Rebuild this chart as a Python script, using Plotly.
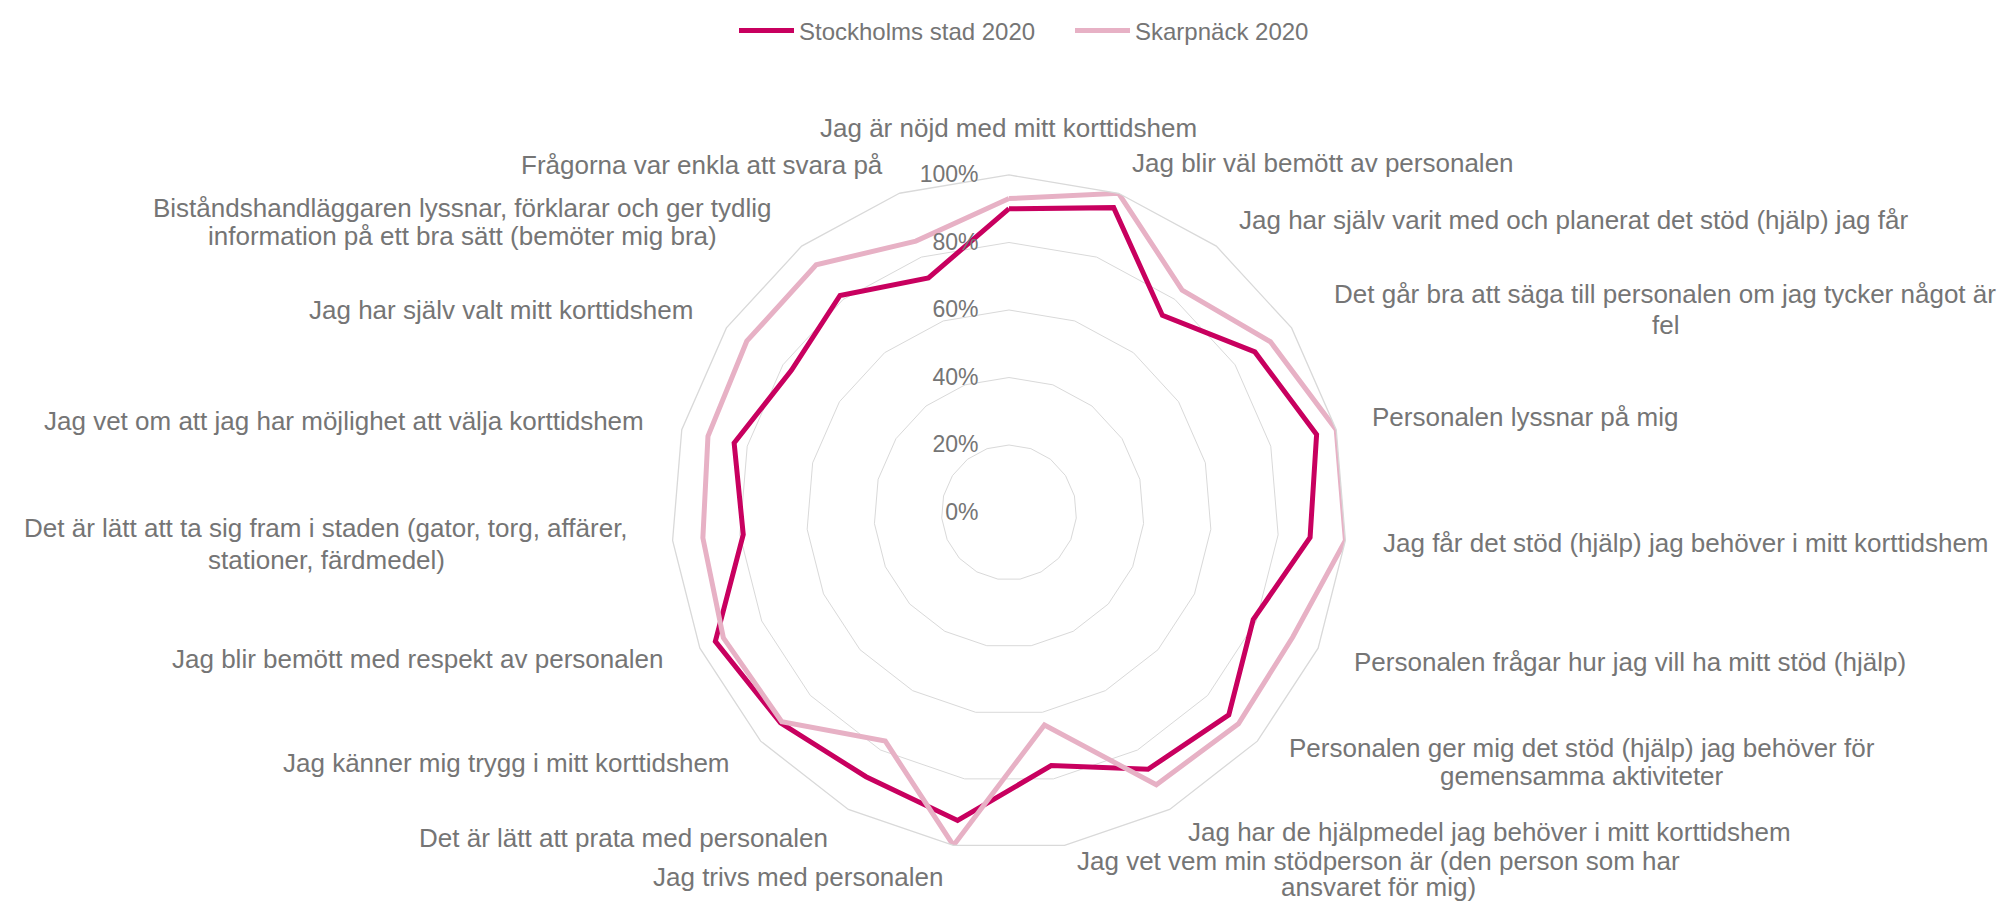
import plotly.graph_objects as go

# ---------------- data ----------------
categories = [
    "Jag är nöjd med mitt korttidshem",
    "Jag blir väl bemött av personalen",
    "Jag har själv varit med och planerat det stöd (hjälp) jag får",
    "Det går bra att säga till personalen om jag tycker något är<br>fel",
    "Personalen lyssnar på mig",
    "Jag får det stöd (hjälp) jag behöver i mitt korttidshem",
    "Personalen frågar hur jag vill ha mitt stöd (hjälp)",
    "Personalen ger mig det stöd (hjälp) jag behöver för<br>gemensamma aktiviteter",
    "Jag har de hjälpmedel jag behöver i mitt korttidshem",
    "Jag vet vem min stödperson är (den person som har<br>ansvaret för mig)",
    "Jag trivs med personalen",
    "Det är lätt att prata med personalen",
    "Jag känner mig trygg i mitt korttidshem",
    "Jag blir bemött med respekt av personalen",
    "Det är lätt att ta sig fram i staden (gator, torg, affärer,<br>stationer, färdmedel)",
    "Jag vet om att jag har möjlighet att välja korttidshem",
    "Jag har själv valt mitt korttidshem",
    "Biståndshandläggaren lyssnar, förklarar och ger tydlig<br>information på ett bra sätt (bemöter mig bra)",
    "Frågorna var enkla att svara på",
]

stockholm = [0.90, 0.955, 0.74, 0.87, 0.94, 0.895, 0.79, 0.885, 0.865, 0.76,
             0.925, 0.89, 0.92, 0.95, 0.79, 0.84, 0.77, 0.815, 0.735]
skarpnack = [0.93, 1.00, 0.835, 0.925, 1.00, 1.00, 0.918, 0.924, 0.917, 0.638,
             1.00, 0.77, 0.915, 0.924, 0.91, 0.92, 0.928, 0.93, 0.85]

series_names = ["Stockholms stad 2020", "Skarpnäck 2020"]
radial_ticks = [0, 0.2, 0.4, 0.6, 0.8, 1.0]

# ---------------- styles / layout ----------------
series_colors = ["#C8005F", "#E7B1C5"]
TEXT = "#757575"
GRID = "#D9D9D9"
FONT = "Liberation Sans, Arial, sans-serif"

# page is W x H; the html body has an 8px margin, so the figure is offset
PAGE_W, PAGE_H, OFF = 2005, 903, 8
W, H = PAGE_W - OFF, PAGE_H - OFF


def px(x):
    return (x - OFF) / W


def py(y):
    return 1 - (y - OFF) / H


# polar centre / radius (page pixels)
cx, cy, R = 1009, 509, 340.6

# category label anchors (page pixels): x, y of each text line, horizontal anchor
label_pos = [
    (1008, [121], "center"), (1130, [156], "left"), (1237, [214], "left"),
    (1665, [289, 320], "center"), (1370, [413], "left"), (1381, [540], "left"),
    (1352, [660], "left"), (1582, [747, 775], "center"), (1186, [831], "left"),
    (1378, [861, 887], "center"), (798, [877], "center"), (830, [837], "right"),
    (732, [762], "right"), (665, [657], "right"), (326, [525, 557], "center"),
    (646, [417], "right"), (695, [305], "right"), (462, [202, 230], "center"),
    (885, [158], "right"),
]

fig = go.Figure()
for name, vals, col in zip(series_names, [stockholm, skarpnack], series_colors):
    fig.add_trace(go.Scatterpolar(
        r=vals + [vals[0]],
        theta=categories + [categories[0]],
        mode="lines",
        name=name,
        line=dict(color=col, width=5),
    ))

annotations = []
for text, (x, ys, anc) in zip(categories, label_pos):
    for line, y in zip(text.split("<br>"), ys):
        annotations.append(dict(
            text=line, x=px(x), y=py(y), xref="paper", yref="paper",
            xanchor=anc, yanchor="middle", align="center", showarrow=False,
            font=dict(size=26, color=TEXT, family=FONT),
        ))

fig.update_layout(
    width=W, height=H,
    margin=dict(l=0, r=0, t=0, b=0),
    paper_bgcolor="white",
    plot_bgcolor="white",
    font=dict(family=FONT, color=TEXT, size=24),
    annotations=annotations,
    polar=dict(
        domain=dict(x=[px(cx - R), px(cx + R)],
                    y=[py(cy + R), py(cy - R)]),
        bgcolor="white",
        gridshape="linear",
        radialaxis=dict(
            range=[0, 1],
            tickvals=radial_ticks,
            tickformat=".0%",
            angle=90,
            side="counterclockwise",
            tickangle=90,
            showline=False,
            ticks="outside",
            ticklen=22,
            tickcolor="rgba(0,0,0,0)",
            gridcolor=GRID,
            gridwidth=1.3,
            tickfont=dict(size=23, color=TEXT),
        ),
        angularaxis=dict(
            direction="clockwise",
            rotation=90,
            showgrid=False,
            showline=True,
            linecolor=GRID,
            linewidth=1.3,
            ticks="",
            showticklabels=False,
        ),
    ),
    legend=dict(
        orientation="h",
        x=px(1070), xanchor="center",
        y=py(23), yanchor="middle",
        font=dict(size=24, color=TEXT),
        itemwidth=55,
        entrywidth=266,
        entrywidthmode="pixels",
    ),
)

fig.write_html("out.html")
